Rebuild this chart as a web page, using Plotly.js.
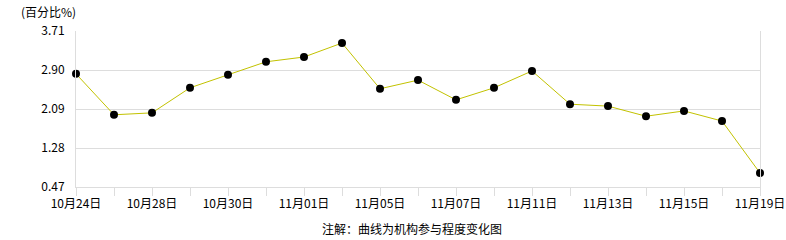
<!DOCTYPE html>
<html><head><meta charset="utf-8">
<script src="https://cdn.plot.ly/plotly-3.0.1.min.js"></script>
<style>html,body{margin:0;padding:0;background:#fff}#c{width:786px;height:240px}</style>
</head><body><div id="c"></div>
<script>
const dates = ["10月24日","10月25日","10月28日","10月29日","10月30日","10月31日","11月01日","11月04日","11月05日","11月06日","11月07日","11月08日","11月11日","11月12日","11月13日","11月14日","11月15日","11月18日","11月19日"];
const values = [2.82,1.97,2.01,2.53,2.80,3.07,3.17,3.46,2.51,2.69,2.28,2.53,2.88,2.19,2.15,1.94,2.05,1.84,0.76];
const yTicks = [0.47,1.28,2.09,2.90,3.71];
const yTitle = "(百分比%)";
const footnote = "注解：曲线为机构参与程度变化图";

const font = "SimSun, 'Noto Sans CJK SC', sans-serif";
const tickText = dates.map((d,i)=> i%2===0 ? d : "");

Plotly.newPlot("c", [{
  x: dates, y: values, type: "scatter", mode: "lines+markers",
  line: {color: "#c2c200", width: 1},
  marker: {color: "#000", size: 8},
  cliponaxis: false, hoverinfo: "none"
}], {
  width: 786, height: 240,
  margin: {l: 76, r: 26, t: 31, b: 53},
  paper_bgcolor: "#fff", plot_bgcolor: "#fff",
  showlegend: false,
  font: {family: font, size: 12, color: "#000"},
  xaxis: {
    type: "category", range: [0, dates.length - 1],
    tickvals: dates, ticktext: tickText,
    ticks: "outside", ticklen: 8, tickcolor: "#ddd", tickwidth: 1,
    showgrid: false, showline: true, linecolor: "#ddd", linewidth: 1,
    zeroline: false, tickfont: {size: 12}, ticklabelstandoff: -2
  },
  yaxis: {
    range: [yTicks[0], yTicks[yTicks.length-1]],
    tickvals: yTicks, ticktext: yTicks.map(v=>v.toFixed(2)),
    showgrid: true, gridcolor: "#ddd", gridwidth: 1,
    showline: true, mirror: true, linecolor: "#ddd", linewidth: 1,
    zeroline: false, ticks: "", ticklabelstandoff: 8, tickfont: {size: 12}
  },
  annotations: [
    {text: yTitle, xref: "paper", yref: "paper", x: (19-76)/684, y: 1 + 20/156, xanchor: "left", yanchor: "middle", showarrow: false, font: {size: 12}},
    {text: footnote, xref: "paper", yref: "paper", x: (412-76)/684, y: -(228-187)/156, xanchor: "center", yanchor: "middle", showarrow: false, font: {size: 12}}
  ]
}, {staticPlot: true});
</script></body></html>
